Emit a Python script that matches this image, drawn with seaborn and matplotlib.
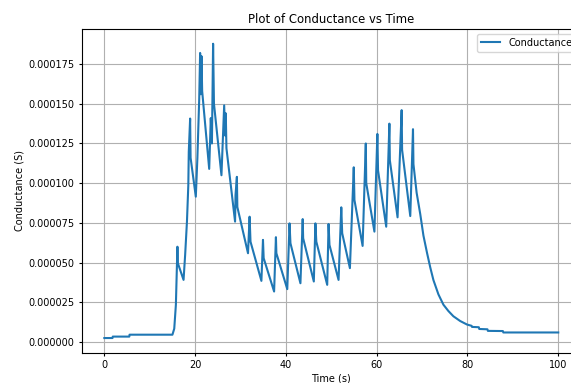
import numpy as np
import matplotlib
matplotlib.use("Agg")
import matplotlib.pyplot as plt
import seaborn as sns

# Values (time in s, conductance in microsiemens)
time_s = [0.0, 1.8, 1.85, 5.5, 5.55, 15.0, 15.4, 15.76, 16.1, 16.2,
          17.45, 17.8, 18.2, 18.5, 18.6, 18.9, 19.0, 20.15, 20.5, 20.9,
          21.1, 21.25, 21.4, 21.55, 23.1, 23.45, 23.7, 23.96, 24.15, 25.8,
          26.0, 26.4, 26.6, 26.75, 26.9, 28.8, 28.9, 29.2, 29.3, 31.65,
          32.0, 32.2, 34.6, 34.95, 35.1, 37.4, 37.8, 37.9, 40.3, 40.8,
          41.0, 43.2, 43.7, 43.8, 46.15, 46.5, 46.7, 49.1, 49.4, 49.6,
          51.6, 52.2, 52.4, 54.1, 54.95, 55.1, 56.9, 57.6, 57.7, 59.5,
          60.15, 60.3, 62.1, 62.8, 62.9, 64.6, 65.5, 65.6, 67.4, 68.0,
          68.1, 68.8, 69.6, 70.3, 71.1, 71.8, 72.5, 73.6, 74.7, 75.8,
          76.9, 78.4, 79.9, 80.9, 81.0, 82.5, 82.6, 84.4, 84.5, 87.8,
          87.9, 100.0]

conductance_uS = [2.5, 2.5, 3.4, 3.4, 4.6, 4.6, 8.4, 23.4, 60.0, 49.6,
                  39.1, 54.8, 75.8, 98.8, 119.7, 140.7, 116.0, 91.5, 116.0, 153.0,
                  182.0, 156.0, 180.0, 158.0, 109.0, 141.0, 125.0, 187.8, 150.0, 105.0,
                  119.7, 149.0, 130.0, 144.0, 122.0, 75.8, 92.5, 104.0, 85.0, 55.9,
                  78.9, 63.2, 38.5, 64.3, 52.8, 31.8, 66.0, 55.9, 33.3, 74.7,
                  62.2, 37.0, 77.4, 65.3, 38.1, 74.7, 63.2, 36.0, 74.3, 61.1,
                  39.1, 84.8, 68.5, 46.5, 110.0, 89.4, 60.5, 125.0, 100.0, 69.5,
                  131.0, 108.0, 72.6, 137.5, 114.5, 78.5, 146.0, 121.0, 79.3, 134.0,
                  112.0, 94.0, 80.5, 67.0, 56.0, 47.0, 39.0, 30.0, 23.5, 19.5,
                  16.2, 13.2, 11.0, 10.2, 9.5, 9.3, 8.2, 8.0, 7.0, 6.9,
                  6.0, 6.0]

conductance = np.array(conductance_uS) * 1e-6

# reference looks like a default matplotlib figure shrunk to ~72 %
plt.rcParams.update({
    'font.size': 7,
    'axes.titlesize': 8.4,
    'axes.titlepad': 4.3,
    'axes.labelpad': 2.9,
    'xtick.major.size': 2.5,
    'ytick.major.size': 2.5,
    'xtick.major.pad': 2.5,
    'ytick.major.pad': 2.5,
})

fig = plt.figure(figsize=(5.71, 3.83), dpi=100)
# the reference is cropped on the right, so the axes runs past the figure edge
ax = fig.add_axes([0.143, 0.079, 0.8744, 0.8452])

sns.lineplot(x=time_s, y=conductance, label='Conductance',
             estimator=None, sort=False, linewidth=1.5, ax=ax)

ax.set_title('Plot of Conductance vs Time')
ax.set_xlabel('Time (s)')
ax.set_ylabel('Conductance (S)')
ax.legend(loc='upper right')
ax.grid(True)

fig.savefig('out.png', dpi=100)
